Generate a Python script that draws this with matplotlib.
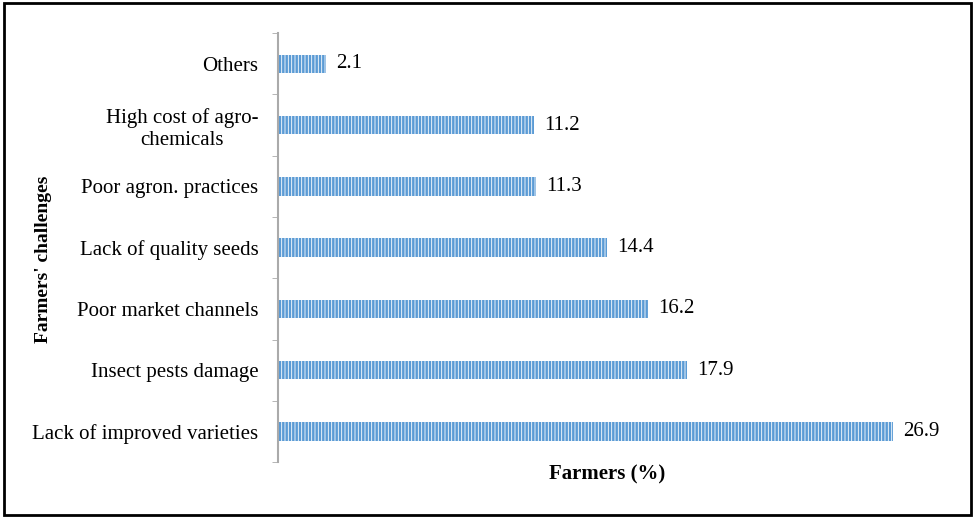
import matplotlib
matplotlib.use("Agg")
import matplotlib.pyplot as plt
from matplotlib.patches import Rectangle

categories = ["Lack of improved varieties", "Insect pests damage", "Poor market channels",
              "Lack of quality seeds", "Poor agron. practices", "High cost of agro-\nchemicals", "Others"]
values = [26.9, 17.9, 16.2, 14.4, 11.3, 11.2, 2.1]

plt.rcParams['font.family'] = ['Liberation Serif']
plt.rcParams['hatch.color'] = 'white'
plt.rcParams['hatch.linewidth'] = 0.6
fig = plt.figure(figsize=(9.75, 5.18), dpi=100)
fig.patches.append(Rectangle((0.004, 0.006), 0.992, 0.988, transform=fig.transFigure,
                             fill=False, edgecolor='black', linewidth=2))
ax = fig.add_axes([0.285, 0.108, 0.675, 0.828])
y = list(range(len(categories)))
ax.barh(y, values, height=0.3, color='#5b9bd5', hatch='|||||', edgecolor='white', linewidth=0)
for yi, v in zip(y, values):
    ax.text(v + 0.45, yi, f"{v}", va='center', ha='left', fontsize=15)
ax.set_yticks(y)
ax.set_yticklabels(categories, fontsize=15, multialignment='center')
ax.set_ylim(-0.5, 6.5)
ax.set_xlim(0, 28.8)
ax.set_xticks([])
for s in ['top', 'right', 'bottom']:
    ax.spines[s].set_visible(False)
ax.spines['left'].set_color('#aaaaaa')
ax.spines['left'].set_linewidth(1.5)
ax.set_yticks([i + 0.5 for i in range(-1, 7)], minor=True)
ax.tick_params(axis='y', which='major', length=0, pad=14)
ax.tick_params(axis='y', which='minor', length=4, color='#aaaaaa')
ax.set_xlabel("Farmers (%)", fontsize=15, fontweight='bold', labelpad=2)
fig.text(0.045, 0.5, "Farmers' challenges", rotation=90, ha='center', va='center',
         fontsize=14, fontweight='bold')
fig.savefig("out.png", dpi=100)
